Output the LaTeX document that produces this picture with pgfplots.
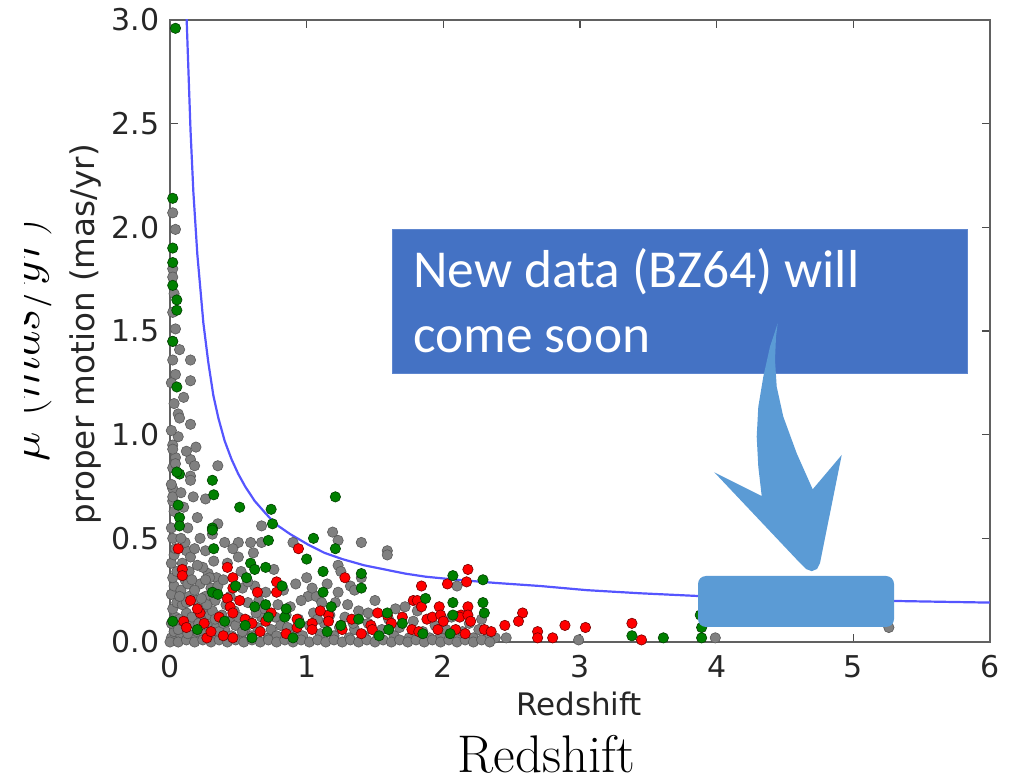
\documentclass[border=0pt]{standalone}
\usepackage{pgfplots}
\pgfplotsset{compat=1.18}
\usepackage{fontspec}
\newfontfamily\dejavu{DejaVu Sans}
\newfontfamily\calibri{Carlito}
\definecolor{boxblue}{HTML}{4472C4}
\definecolor{boxedge}{HTML}{5E86CF}
\definecolor{arrowblue}{HTML}{5B9BD5}
\definecolor{curveblue}{RGB}{85,85,255}
\definecolor{mplgreen}{HTML}{008000}
\definecolor{mplred}{HTML}{FF0000}

\pgfplotstableread{
x y
0.02 2.07
0.04 1.99
0.02 1.80
0.02 1.76
0.02 1.59
0.04 1.51
0.07 1.41
0.02 1.36
0.15 1.36
0.04 1.29
0.15 1.26
0.06 1.10
0.07 1.08
0.15 1.05
0.06 0.99
0.19 0.94
0.04 0.89
0.15 0.88
0.18 0.85
0.35 0.85
0.15 0.80
0.15 0.78
0.26 0.69
0.02 0.95
0.02 0.84
0.02 0.74
0.02 0.68
0.01 0.02
0.03 0.05
0.01 0.09
0.04 0.12
0.02 0.16
0.05 0.19
0.01 0.23
0.03 0.27
0.02 0.31
0.05 0.34
0.01 0.38
0.03 0.42
0.02 0.50
0.01 0.55
0.03 0.63
0.02 0.70
0.01 0.76
0.04 0.86
0.02 0.93
0.01 1.02
0.03 1.15
0.01 1.25
0.02 1.45
0.03 1.68
0.08 0.03
0.10 0.07
0.07 0.11
0.12 0.14
0.09 0.18
0.14 0.22
0.08 0.25
0.11 0.30
0.14 0.34
0.09 0.38
0.12 0.44
0.11 0.48
0.04 0.45
0.17 0.02
0.20 0.05
0.18 0.09
0.22 0.12
0.25 0.04
0.27 0.08
0.24 0.16
0.19 0.20
0.29 0.13
0.32 0.03
0.34 0.07
0.31 0.15
0.26 0.22
0.22 0.28
0.30 0.26
0.33 0.20
0.28 0.33
0.24 0.36
0.34 0.31
0.20 0.37
0.29 0.31
0.26 0.44
0.31 0.52
0.15 0.41
0.13 0.28
0.37 0.02
0.40 0.06
0.43 0.10
0.38 0.13
0.45 0.03
0.48 0.08
0.41 0.18
0.47 0.15
0.52 0.02
0.55 0.06
0.50 0.12
0.58 0.10
0.53 0.26
0.62 0.27
0.57 0.19
0.60 0.03
0.64 0.07
0.67 0.12
0.70 0.24
0.72 0.02
0.69 0.16
0.74 0.06
0.35 0.27
0.44 0.22
0.39 0.30
0.50 0.41
0.61 0.43
0.50 0.48
0.59 0.48
0.67 0.48
0.67 0.56
0.35 0.57
0.42 0.38
0.78 0.03
0.81 0.08
0.85 0.13
0.79 0.18
0.88 0.02
0.91 0.06
0.94 0.11
0.90 0.48
0.92 0.28
1.00 0.31
0.97 0.03
1.02 0.08
1.01 0.22
1.07 0.22
1.05 0.14
1.10 0.04
1.13 0.09
1.11 0.19
1.17 0.13
1.19 0.53
1.23 0.49
1.23 0.37
1.25 0.34
1.23 0.24
1.21 0.19
1.20 0.03
1.24 0.07
1.28 0.12
1.32 0.27
1.35 0.25
1.31 0.02
1.35 0.06
1.38 0.15
1.40 0.48
1.40 0.31
1.42 0.03
1.45 0.09
0.83 0.25
0.76 0.35
1.52 0.02
1.55 0.06
1.59 0.44
1.59 0.42
1.60 0.11
1.64 0.03
1.68 0.07
1.72 0.17
1.75 0.02
1.78 0.10
1.81 0.15
1.85 0.05
1.90 0.02
1.94 0.08
1.98 0.03
2.02 0.06
2.06 0.12
2.10 0.27
2.10 0.02
2.14 0.05
2.19 0.09
2.22 0.02
2.26 0.06
2.28 0.11
2.33 0.03
2.38 0.02
2.46 0.02
2.99 0.01
3.99 0.02
5.26 0.07
0.00 0.00
0.06 0.00
0.12 0.01
0.18 0.00
0.24 0.01
0.30 0.00
0.36 0.01
0.42 0.00
0.48 0.01
0.54 0.00
0.60 0.01
0.66 0.00
0.72 0.01
0.78 0.00
0.84 0.01
0.90 0.00
0.96 0.01
1.02 0.00
1.08 0.01
1.14 0.00
1.20 0.01
1.26 0.00
1.32 0.01
1.38 0.00
1.44 0.01
1.50 0.00
1.56 0.01
1.62 0.00
1.68 0.01
1.74 0.00
1.80 0.01
1.86 0.00
1.92 0.01
1.98 0.00
2.04 0.01
2.10 0.00
2.16 0.01
2.22 0.00
2.28 0.01
2.34 0.00
0.06 0.06
0.13 0.04
0.16 0.12
0.21 0.09
0.27 0.18
0.36 0.05
0.39 0.09
0.33 0.11
0.18 0.25
0.23 0.21
0.12 0.19
0.07 0.22
0.16 0.30
0.26 0.30
0.32 0.39
0.18 0.45
0.22 0.50
0.08 0.50
0.13 0.55
0.20 0.60
0.10 0.65
0.17 0.70
0.08 0.72
0.12 0.92
0.10 1.18
0.46 0.45
0.40 0.48
0.52 0.34
0.57 0.29
0.65 0.20
0.63 0.14
0.77 0.12
0.88 0.17
0.96 0.20
1.04 0.26
1.15 0.28
1.30 0.18
1.45 0.14
1.50 0.20
1.65 0.16
0.53 0.05
0.86 0.07
1.08 0.11
1.34 0.09
}\graydata

\pgfplotstableread{
x y
0.06 0.45
0.09 0.35
0.09 0.32
0.42 0.36
0.46 0.31
0.46 0.26
0.64 0.24
0.15 0.20
0.42 0.21
0.44 0.17
0.22 0.14
0.25 0.09
0.46 0.14
0.74 0.14
0.46 0.02
0.27 0.02
0.94 0.45
0.78 0.29
0.78 0.24
1.16 0.13
1.28 0.31
1.16 0.10
1.52 0.14
0.93 0.11
0.93 0.07
1.04 0.09
1.04 0.06
1.25 0.08
1.26 0.06
1.47 0.08
1.48 0.06
2.18 0.35
2.03 0.28
2.17 0.29
1.84 0.27
1.78 0.20
1.81 0.20
1.84 0.17
1.97 0.17
2.18 0.17
1.59 0.13
2.13 0.13
1.88 0.11
1.92 0.12
1.98 0.13
2.00 0.10
2.12 0.12
2.18 0.13
2.20 0.10
1.77 0.06
1.82 0.05
1.96 0.06
2.09 0.06
2.16 0.04
2.30 0.06
2.35 0.05
2.58 0.14
2.55 0.10
2.45 0.08
2.69 0.05
2.69 0.02
2.80 0.02
2.89 0.08
3.04 0.07
3.38 0.09
3.45 0.01
0.10 0.10
0.12 0.07
0.30 0.05
0.55 0.11
0.60 0.09
0.66 0.05
0.85 0.04
0.20 0.16
0.36 0.12
0.70 0.10
1.10 0.15
1.33 0.11
1.40 0.04
1.62 0.09
1.70 0.12
0.51 0.20
0.39 0.03
}\reddata

\pgfplotstableread{
x y
0.04 2.96
0.02 2.14
0.02 1.90
0.02 1.83
0.02 1.72
0.05 1.65
0.05 1.60
0.02 1.45
0.05 1.23
0.07 0.81
0.05 0.82
0.31 0.78
0.32 0.71
0.06 0.66
0.51 0.65
0.07 0.60
0.07 0.56
0.31 0.55
0.31 0.54
0.74 0.64
0.75 0.57
0.32 0.45
0.72 0.49
1.21 0.70
1.05 0.50
1.00 0.40
1.21 0.45
1.40 0.33
1.12 0.34
1.12 0.24
1.40 0.26
0.59 0.38
0.62 0.35
0.70 0.36
0.56 0.31
0.31 0.24
0.35 0.23
0.62 0.17
0.70 0.18
0.72 0.12
0.40 0.10
0.55 0.08
0.82 0.27
0.84 0.12
1.18 0.17
2.07 0.32
2.29 0.30
1.87 0.21
2.07 0.19
2.29 0.19
1.59 0.14
2.07 0.13
2.30 0.14
3.38 0.03
3.61 0.02
3.89 0.07
3.89 0.02
3.88 0.13
0.85 0.16
1.25 0.08
0.95 0.09
1.60 0.06
1.85 0.04
2.05 0.04
1.53 0.03
0.60 0.02
0.90 0.02
1.15 0.05
0.20 0.06
0.02 0.10
1.38 0.11
1.70 0.09
0.48 0.27
}\greendata

\pgfplotstableread{
x y
0.115 3.20
0.122 3.00
0.150 2.47
0.171 2.17
0.200 1.87
0.244 1.54
0.280 1.35
0.317 1.19
0.354 1.08
0.400 0.97
0.451 0.88
0.500 0.81
0.550 0.75
0.620 0.68
0.700 0.62
0.770 0.57
0.880 0.52
1.010 0.47
1.130 0.43
1.260 0.40
1.420 0.37
1.570 0.35
1.720 0.33
1.870 0.315
2.100 0.30
2.380 0.285
2.710 0.27
3.050 0.25
3.440 0.235
3.860 0.222
4.400 0.212
5.290 0.198
6.000 0.19
}\curvedata

\begin{document}
\begin{tikzpicture}[x=1pt,y=1pt]
\useasboundingbox (0,0) rectangle (511.5,391);
\begin{axis}[
  at={(85pt,70pt)}, anchor=south west,
  width=410pt, height=311pt, scale only axis,
  xmin=0, xmax=6, ymin=0, ymax=3,
  xtick={0,1,2,3,4,5,6},
  ytick={0,0.5,1,1.5,2,2.5,3},
  y tick label style={/pgf/number format/fixed, /pgf/number format/fixed zerofill, /pgf/number format/precision=1},
  /pgf/number format/assume math mode=true,
  tick align=inside, major tick length=4pt,
  tick style={black!70, line width=0.8pt},
  axis line style={black!62, line width=1.4pt},
  tick label style={font=\dejavu\fontsize{15}{18}\selectfont, text=black!85},
  y tick label style={inner sep=0pt, xshift=-5pt},
  x tick label style={inner sep=0pt, yshift=-6.5pt},
]
\addplot[only marks, mark=*, mark size=2.6pt, mark options={fill=gray, draw=black!65, line width=0.3pt}] table {\graydata};
\addplot[only marks, mark=*, mark size=2.6pt, mark options={fill=mplred, draw=black!55!red, line width=0.3pt}] table {\reddata};
\addplot[only marks, mark=*, mark size=2.6pt, mark options={fill=mplgreen, draw=black!50!mplgreen, line width=0.3pt}] table {\greendata};
\addplot[curveblue, line width=1.1pt, no marks] table {\curvedata};
\end{axis}

% axis labels
\node[anchor=base, font=\dejavu\fontsize{15.5}{18}\selectfont, text=black!85] at (289.5,33) {Redshift};
\node[anchor=base, rotate=90, font=\dejavu\fontsize{16.3}{18}\selectfont, text=black!85] at (47,224) {proper motion (mas/yr)};
\node[anchor=base, font=\fontsize{26.5}{30}\selectfont] at (273.25,5) {Redshift};
\begin{scope}
\clip (12,0) rectangle (60,391);
\node[anchor=base, rotate=90, font=\fontsize{25}{30}\selectfont] at (20,221) {$\mu\ (mas/yr)$};
\end{scope}

% annotation box
\fill[boxblue, draw=boxedge, line width=0.5pt] (196,276) rectangle (483.5,204);
\node[anchor=base west, inner sep=0pt, text=white, font=\calibri\fontsize{26.7}{32}\selectfont] at (206.5,247) {New data (BZ64) will};
\node[anchor=base west, inner sep=0pt, text=white, font=\calibri\fontsize{26.7}{32}\selectfont] at (206.5,214.5) {come soon};

% rounded rectangle
\fill[arrowblue, rounded corners=4pt] (349,103) rectangle (447,77.5);

% curved arrow
\fill[arrowblue] (388.85,229.35) -- (385,217.65) -- (381.65,202.65) -- (379.15,187.65) -- (378.35,172.65) -- (379.15,157.65) -- (380.85,143) -- (357.15,154.85) -- (400,109.5) -- (403,106.5) -- (405.85,105.4) -- (408.5,106.5) -- (410,109.5) -- (420.85,163.5) -- (406.35,146.35) -- (398.35,164.35) -- (391.65,182.65) -- (388.35,197.65) -- (387.5,211) -- (388,222.65) -- cycle;
\end{tikzpicture}
\end{document}
